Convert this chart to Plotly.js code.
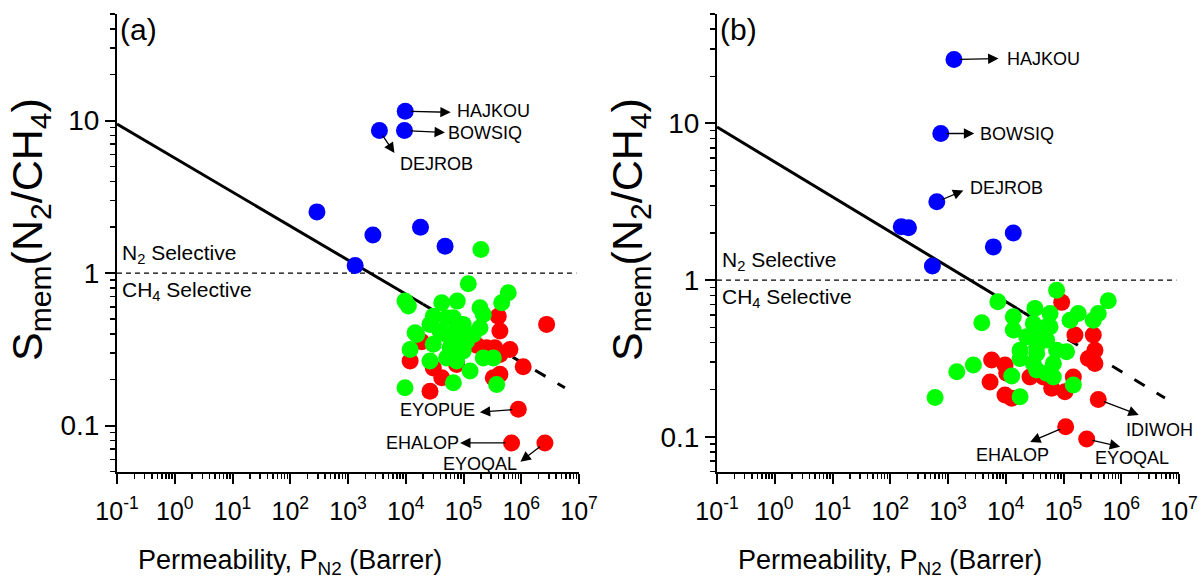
<!DOCTYPE html>
<html>
<head>
<meta charset="utf-8">
<script src="https://cdn.plot.ly/plotly-3.0.1.min.js"></script>
<style>html,body{margin:0;padding:0;background:#fff;}#chart{width:1203px;height:580px;}</style>
</head>
<body>
<div id="chart"></div>
<script>
// ---------- DATA ----------
// Panel (a)
const aBlueX = [9.8e3, 9.5e3, 3.5e3, 290, 2.7e3, 1.8e4, 4.8e4, 1.33e3];
const aBlueY = [11.5, 8.6, 8.6, 2.52, 1.78, 2.0, 1.50, 1.12];
const aGreenX = [2.0e5, 1.21e5, 9.7e3, 1.11e4, 5.96e5, 4.2e4, 7.8e4, 1.93e5, 2.2e5, 4.58e5, 3.0e4, 2.63e4, 6.67e4, 9.9e4, 1.55e4, 5.1e4, 8.7e4, 1.48e5, 1.93e5, 1.19e4, 3.0e4, 5.85e4, 9.9e4, 2.2e5, 2.63e4, 5.1e4, 1.3e5, 6.67e4, 9.7e3, 3.75e5, 3.28e5, 7.6e4, 1.45e4, 5.1e4, 1.13e5, 3.9e4, 7.6e4];
const aGreenY = [1.43, 0.851, 0.655, 0.608, 0.743, 0.639, 0.655, 0.592, 0.536, 0.639, 0.522, 0.461, 0.509, 0.461, 0.396, 0.396, 0.376, 0.396, 0.438, 0.316, 0.341, 0.324, 0.308, 0.278, 0.265, 0.278, 0.228, 0.191, 0.177, 0.186, 0.278, 0.265, 0.406, 0.509, 0.358, 0.417, 0.438];
const aRedX = [2.75e6, 4.0e5, 4.27e5, 1.89e4, 1.69e5, 3.5e5, 6.37e5, 4.27e5, 1.19e4, 1.08e6, 3.0e4, 4.2e4, 3.28e5, 4.27e5, 2.63e4, 7.6e4, 8.9e5, 6.8e5, 2.57e6, 2.5e5];
const aRedY = [0.461, 0.522, 0.417, 0.355, 0.337, 0.324, 0.316, 0.293, 0.265, 0.243, 0.239, 0.206, 0.206, 0.217, 0.168, 0.252, 0.128, 0.077, 0.077, 0.324];

// Panel (b)
const bBlueX = [1.27e3, 750, 640, 155, 207, 6.1e3, 1.35e4, 537];
const bBlueY = [25.6, 8.63, 3.16, 2.19, 2.16, 1.63, 2.0, 1.23];
const bGreenX = [7.6e4, 7.3e3, 5.96e5, 3.85e3, 1.35e4, 3.2e4, 5.85e4, 1.8e5, 4.0e5, 1.3e5, 3.28e5, 1.35e4, 3.0e4, 5.85e4, 2.3e4, 5.1e4, 1.77e4, 3.43e4, 7.6e4, 1.13e5, 1.77e4, 3.0e4, 6.67e4, 5.1e4, 2.75e3, 1.42e3, 598, 1.27e4, 1.77e4, 1.48e5, 3.43e4, 6.67e4, 3.9e4, 5.1e4, 3.43e4];
const bGreenY = [0.863, 0.727, 0.738, 0.534, 0.583, 0.660, 0.612, 0.612, 0.612, 0.555, 0.555, 0.480, 0.529, 0.503, 0.435, 0.414, 0.357, 0.340, 0.357, 0.349, 0.316, 0.294, 0.294, 0.254, 0.287, 0.260, 0.178, 0.244, 0.180, 0.214, 0.267, 0.241, 0.435, 0.503, 0.375];
const bRedX = [9.3e4, 1.58e5, 3.28e5, 3.5e5, 2.69e5, 3.5e5, 5.7e3, 9.7e3, 5.35e3, 1.04e4, 2.63e4, 4.48e4, 6.25e4, 1.06e5, 1.48e5, 9.7e3, 1.27e4, 4.0e5, 1.09e5, 2.52e5];
const bRedY = [0.721, 0.446, 0.446, 0.357, 0.316, 0.294, 0.309, 0.287, 0.224, 0.254, 0.241, 0.241, 0.204, 0.194, 0.241, 0.185, 0.176, 0.173, 0.116, 0.0966];

// Upper bound line (solid part, dashed extrapolation) and selectivity = 1 line
const boundSolidX = [0.1, 2.0e4];
const boundSolidY = [9.5, 0.624];
const boundDashX = [2.0e4, 5.7e6];
const boundDashY = [0.624, 0.177];
const unityX = [0.1, 9e6];
const unityY = [1, 1];

// Tick labels
const xTickVals = [0.1, 1, 10, 100, 1e3, 1e4, 1e5, 1e6, 1e7];
const xTickText = ['10<sup>-1</sup>','10<sup>0</sup>','10<sup>1</sup>','10<sup>2</sup>','10<sup>3</sup>','10<sup>4</sup>','10<sup>5</sup>','10<sup>6</sup>','10<sup>7</sup>'];
const yTickVals = [0.1, 1, 10];
const yTickText = ['0.1', '1', '10'];

// Labelled structures: [name, series, index]
const aLabels = [['HAJKOU','blue',0],['BOWSIQ','blue',1],['DEJROB','blue',2],['EYOPUE','red',16],['EHALOP','red',17],['EYOQAL','red',18]];
const bLabels = [['HAJKOU','blue',0],['BOWSIQ','blue',1],['DEJROB','blue',2],['IDIWOH','red',17],['EHALOP','red',18],['EYOQAL','red',19]];

// ---------- STYLE ----------
const FONT = 'Liberation Sans, Arial, sans-serif';
const MS = 17;
const BLUE = '#0000ff', GREEN = '#00ff00', RED = '#ff0000';
// arrow head offset [dx,dy] and text centre offset [dx,dy] in px relative to the point
const aOff = {
  HAJKOU: [[47,1],[88,0]], BOWSIQ: [[42,2],[81,2]], DEJROB: [[16,24],[57,33]],
  EYOPUE: [[-40,3],[-81,1]], EHALOP: [[-53,0],[-89,0]], EYOQAL: [[-26,20],[-65,21]]
};
const bOff = {
  HAJKOU: [[46,-1],[90,-1]], BOWSIQ: [[35,0],[76,0]], DEJROB: [[28,-12],[70,-14]],
  IDIWOH: [[42,16],[61,31]], EHALOP: [[-37,16],[-53,28]], EYOQAL: [[35,8],[45,19]]
};

function minorVals(lo, hi) {
  const v = [];
  for (let e = lo; e < hi; e++) for (let k = 2; k <= 9; k++) v.push(k * Math.pow(10, e));
  return v;
}

function scatter(x, y, color, xa, ya) {
  return {x, y, xaxis: xa, yaxis: ya, type: 'scatter', mode: 'markers',
    marker: {color, size: MS, line: {width: 0}}, hoverinfo: 'skip', showlegend: false};
}
function line(x, y, xa, ya, width, dash) {
  return {x, y, xaxis: xa, yaxis: ya, type: 'scatter', mode: 'lines',
    line: {color: '#000', width, dash}, hoverinfo: 'skip', showlegend: false};
}

const traces = [];
[['x','y'],['x2','y2']].forEach(([xa, ya]) => {
  traces.push(line(unityX, unityY, xa, ya, 1.2, '5px,4px'));
  traces.push(line(boundSolidX, boundSolidY, xa, ya, 3, 'solid'));
  traces.push(line(boundDashX, boundDashY, xa, ya, 3, '12px,14px'));
});
traces.push(scatter(aBlueX, aBlueY, BLUE, 'x', 'y'));
traces.push(scatter(aRedX, aRedY, RED, 'x', 'y'));
traces.push(scatter(aGreenX, aGreenY, GREEN, 'x', 'y'));
traces.push(scatter(bBlueX, bBlueY, BLUE, 'x2', 'y2'));
traces.push(scatter(bRedX, bRedY, RED, 'x2', 'y2'));
traces.push(scatter(bGreenX, bGreenY, GREEN, 'x2', 'y2'));

const W = 1203, H = 580;
const yDom = [1 - 471.5 / H, 1 - 14 / H];

function xAxis(dom) {
  return {
    type: 'log', range: [-1, 7], domain: dom,
    showline: true, linecolor: '#000', linewidth: 2, mirror: false,
    showgrid: false, zeroline: false,
    ticks: 'outside', ticklen: 10, tickwidth: 2, tickcolor: '#000',
    tickvals: xTickVals, ticktext: xTickText, ticklabelstandoff: 6,
    tickfont: {family: FONT, size: 25, color: '#000'},
    minor: {tickvals: minorVals(-1, 7), ticks: 'outside', ticklen: 5, tickwidth: 1.5, tickcolor: '#000', showgrid: false}
  };
}
function yAxis(dom, lo) {
  return {
    type: 'log', range: [Math.log10(lo), Math.log10(50)], domain: dom,
    showline: true, linecolor: '#000', linewidth: 2, mirror: false,
    showgrid: false, zeroline: false,
    ticks: 'outside', ticklen: 10, tickwidth: 2, tickcolor: '#000',
    tickvals: yTickVals, ticktext: yTickText,
    tickfont: {family: FONT, size: 28, color: '#000'},
    minor: {tickvals: minorVals(-2, 2), ticks: 'outside', ticklen: 5, tickwidth: 1.5, tickcolor: '#000', showgrid: false}
  };
}

const xa1 = xAxis([117 / W, 579 / W]); xa1.anchor = 'y';
const xa2 = xAxis([717 / W, 1179 / W]); xa2.anchor = 'y2';
const ya1 = yAxis(yDom, 0.05); ya1.anchor = 'x';
const ya2 = yAxis(yDom, 0.06); ya2.anchor = 'x2';

const ann = [];
function labelAnns(labels, off, series, xr, yr) {
  labels.forEach(([name, s, i]) => {
    const px = series[s][0][i], py = series[s][1][i];
    const [head, txt] = off[name];
    ann.push({x: Math.log10(px), y: Math.log10(py), xref: xr, yref: yr, text: '', showarrow: true,
      ax: head[0], ay: head[1], arrowside: 'start', startarrowhead: 2, startarrowsize: 1.6,
      arrowhead: 2, arrowsize: 1.6, arrowwidth: 1.3, arrowcolor: '#000', standoff: 6});
    ann.push({x: Math.log10(px), y: Math.log10(py), xref: xr, yref: yr, text: name, showarrow: false,
      xshift: txt[0], yshift: -txt[1], xanchor: 'center', yanchor: 'middle',
      font: {family: FONT, size: 18, color: '#000'}});
  });
}
labelAnns(aLabels, aOff, {blue: [aBlueX, aBlueY], red: [aRedX, aRedY]}, 'x', 'y');
labelAnns(bLabels, bOff, {blue: [bBlueX, bBlueY], red: [bRedX, bRedY]}, 'x2', 'y2');

[['x','y','(a)'],['x2','y2','(b)']].forEach(([xr, yr, tag]) => {
  ann.push({x: -1, y: Math.log10(50), xref: xr, yref: yr, text: tag, showarrow: false,
    xanchor: 'left', yanchor: 'top', xshift: 1, yshift: 3, font: {family: FONT, size: 30, color: '#000'}});
  ann.push({x: -1, y: 0, xref: xr, yref: yr, text: 'N<sub>2</sub> Selective', showarrow: false,
    xanchor: 'left', yanchor: 'middle', xshift: 3, yshift: 19, font: {family: FONT, size: 21, color: '#000'}});
  ann.push({x: -1, y: 0, xref: xr, yref: yr, text: 'CH<sub>4</sub> Selective', showarrow: false,
    xanchor: 'left', yanchor: 'middle', xshift: 3, yshift: -18, font: {family: FONT, size: 21, color: '#000'}});
});

// axis titles as paper annotations
[[290 / W, 30 / W], [890 / W, 630 / W]].forEach(([xt, yt]) => {
  ann.push({x: xt, y: 1 - 562 / H, xref: 'paper', yref: 'paper', showarrow: false,
    text: 'Permeability, P<sub>N2</sub> (Barrer)', xanchor: 'center', yanchor: 'middle',
    font: {family: FONT, size: 27, color: '#000'}});
  ann.push({x: yt, y: 1 - 230 / H, xref: 'paper', yref: 'paper', showarrow: false, textangle: -90,
    text: 'S<sub>mem</sub>(N<sub>2</sub>/CH<sub>4</sub>)', xanchor: 'center', yanchor: 'middle',
    font: {family: FONT, size: 43, color: '#000'}});
});

const layout = {
  width: W, height: H, margin: {l: 0, r: 0, t: 0, b: 0},
  paper_bgcolor: '#fff', plot_bgcolor: 'rgba(0,0,0,0)',
  xaxis: xa1, yaxis: ya1, xaxis2: xa2, yaxis2: ya2,
  annotations: ann, showlegend: false, font: {family: FONT, color: '#000'}
};
Plotly.newPlot('chart', traces, layout, {displayModeBar: false, staticPlot: true});
</script>
</body>
</html>
